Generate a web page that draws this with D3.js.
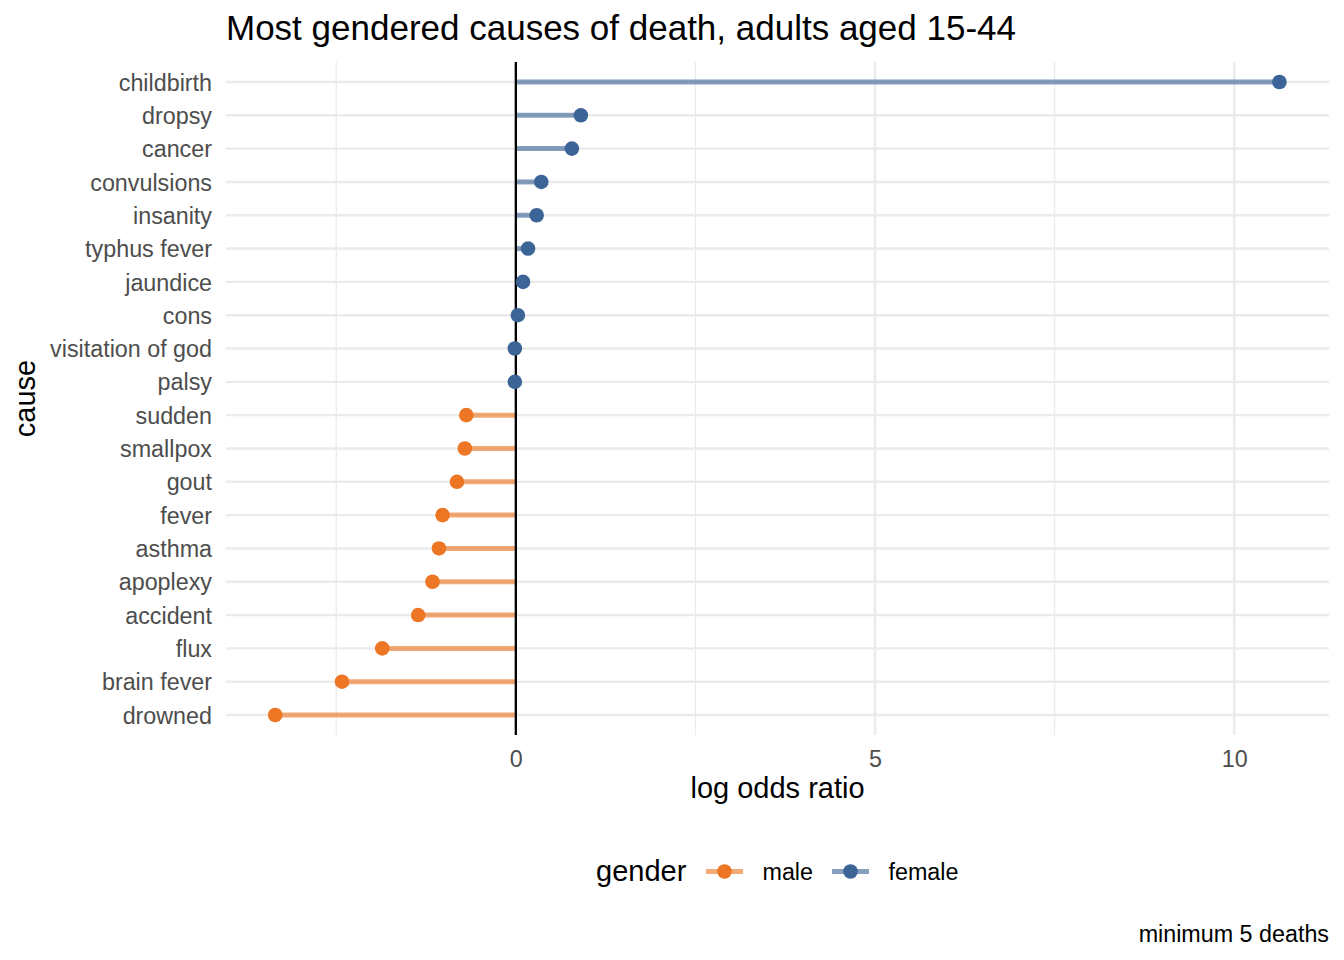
<!DOCTYPE html>
<html>
<head>
<meta charset="utf-8">
<script src="https://cdn.jsdelivr.net/npm/d3@7"></script>
<style>
  body { margin: 0; background: #fff; }
  text { font-family: "Liberation Sans", Arial, sans-serif; }
</style>
</head>
<body>
<div id="chart"></div>
<script>
// datos (de arriba a abajo)
const causes = ['childbirth', 'dropsy', 'cancer', 'convulsions', 'insanity', 'typhus fever',
  'jaundice', 'cons', 'visitation of god', 'palsy', 'sudden', 'smallpox', 'gout', 'fever',
  'asthma', 'apoplexy', 'accident', 'flux', 'brain fever', 'drowned'];
const logOdds = [10.63, 0.905, 0.78, 0.354, 0.29, 0.17, 0.10, 0.028, -0.014, -0.014,
  -0.69, -0.71, -0.82, -1.02, -1.07, -1.16, -1.36, -1.86, -2.42, -3.35];
const genders = ['female', 'female', 'female', 'female', 'female', 'female', 'female', 'female',
  'female', 'female', 'male', 'male', 'male', 'male', 'male', 'male', 'male', 'male', 'male', 'male'];
const genderLevels = ['male', 'female'];
const xTicks = [0, 5, 10];
const xMinor = [-2.5, 2.5, 7.5];

const width = 1344;
const height = 960;
const panelLeft = 226, panelRight = 1329, panelTop = 62, panelBottom = 735;
const tickSize = 23.3;
const titleSize = 29;
const segWidth = 5;
const dotR = 7.3;

const color = d3.scaleOrdinal(genderLevels, ['#EC7623', '#3C6497']);

const svg = d3.select('#chart').append('svg')
  .attr('width', width)
  .attr('height', height);

const x = d3.scaleLinear().domain([-4.035, 11.32]).range([panelLeft, panelRight]);
const y = d3.scalePoint().domain(causes).range([panelTop, panelBottom]).padding(0.6);

// rejilla
const grid = svg.append('g').attr('class', 'grid');
grid.selectAll('.minor').data(xMinor).enter().append('line')
  .attr('x1', d => x(d)).attr('x2', d => x(d))
  .attr('y1', panelTop).attr('y2', panelBottom)
  .attr('stroke', '#EBEBEB').attr('stroke-width', 1.2);
grid.selectAll('.majorx').data(xTicks).enter().append('line')
  .attr('x1', d => x(d)).attr('x2', d => x(d))
  .attr('y1', panelTop).attr('y2', panelBottom)
  .attr('stroke', '#EBEBEB').attr('stroke-width', 2.4);
grid.selectAll('.majory').data(causes).enter().append('line')
  .attr('x1', panelLeft).attr('x2', panelRight)
  .attr('y1', d => y(d)).attr('y2', d => y(d))
  .attr('stroke', '#EBEBEB').attr('stroke-width', 2.4);

// segmentos
svg.append('g').selectAll('line').data(causes).enter().append('line')
  .attr('x1', x(0))
  .attr('x2', (d, i) => x(logOdds[i]))
  .attr('y1', d => y(d)).attr('y2', d => y(d))
  .attr('stroke', (d, i) => color(genders[i]))
  .attr('stroke-opacity', 0.62)
  .attr('stroke-width', segWidth);

// linea cero
svg.append('line')
  .attr('x1', x(0)).attr('x2', x(0))
  .attr('y1', panelTop).attr('y2', panelBottom)
  .attr('stroke', '#000').attr('stroke-width', 2.3);

// puntos
svg.append('g').selectAll('circle').data(causes).enter().append('circle')
  .attr('cx', (d, i) => x(logOdds[i]))
  .attr('cy', d => y(d))
  .attr('r', dotR)
  .attr('fill', (d, i) => color(genders[i]));

// ejes
const xAxis = svg.append('g')
  .attr('transform', `translate(0, ${panelBottom})`)
  .call(d3.axisBottom(x).tickValues(xTicks).tickSize(0).tickPadding(15));
xAxis.select('.domain').remove();
xAxis.selectAll('text').attr('font-size', tickSize).attr('fill', '#4D4D4D')
  .style('font-family', '"Liberation Sans", Arial, sans-serif');

const yAxis = svg.append('g')
  .attr('transform', `translate(${panelLeft}, 0)`)
  .call(d3.axisLeft(y).tickSize(0).tickPadding(14));
yAxis.select('.domain').remove();
yAxis.selectAll('text').attr('font-size', tickSize).attr('fill', '#4D4D4D').attr('dy', '0.35em')
  .style('font-family', '"Liberation Sans", Arial, sans-serif');

// titulos
svg.append('text')
  .attr('x', panelLeft).attr('y', 40)
  .attr('font-size', 35).attr('fill', '#000')
  .text('Most gendered causes of death, adults aged 15-44');

svg.append('text')
  .attr('x', (panelLeft + panelRight) / 2).attr('y', 798)
  .attr('text-anchor', 'middle')
  .attr('font-size', titleSize).attr('fill', '#000')
  .text('log odds ratio');

svg.append('text')
  .attr('transform', `translate(35, ${(panelTop + panelBottom) / 2}) rotate(-90)`)
  .attr('text-anchor', 'middle')
  .attr('font-size', titleSize).attr('fill', '#000')
  .text('cause');

svg.append('text')
  .attr('x', panelRight).attr('y', 941.5)
  .attr('text-anchor', 'end')
  .attr('font-size', tickSize).attr('fill', '#000')
  .text('minimum 5 deaths');

// leyenda
const legend = svg.append('g').attr('class', 'legend');
legend.append('text')
  .attr('x', 596).attr('y', 881)
  .attr('font-size', titleSize).attr('fill', '#000')
  .text('gender');

const keyX = [706, 832];
genderLevels.forEach((g, i) => {
  const k = legend.append('g').attr('transform', `translate(${keyX[i]}, 871.5)`);
  k.append('line')
    .attr('x1', 0).attr('x2', 37).attr('y1', 0).attr('y2', 0)
    .attr('stroke', color(g)).attr('stroke-opacity', 0.62).attr('stroke-width', segWidth);
  k.append('circle').attr('cx', 18.5).attr('cy', 0).attr('r', dotR).attr('fill', color(g));
  k.append('text')
    .attr('x', 56.5).attr('y', 8)
    .attr('font-size', tickSize).attr('fill', '#000')
    .text(g);
});
</script>
</body>
</html>
